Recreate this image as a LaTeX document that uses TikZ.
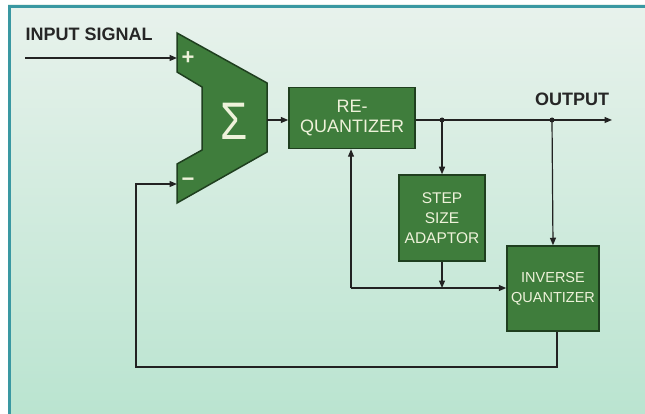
\documentclass[tikz,border=0pt]{standalone}
\usepackage{fontspec}
\setmainfont{Liberation Sans}
\usetikzlibrary{arrows.meta}
\definecolor{bgtop}{HTML}{E8F2EC}
\definecolor{bgbot}{HTML}{BAE4D0}
\definecolor{framecol}{HTML}{3A98A2}
\definecolor{blockfill}{HTML}{3F7D3C}
\definecolor{blockedge}{HTML}{1F3F1F}
\definecolor{blocktext}{HTML}{EEF2DA}
\definecolor{wirecol}{HTML}{222222}

\begin{document}
\begin{tikzpicture}[x=1pt,y=-1pt,
  block/.style={draw=blockedge,line width=1.5pt,fill=blockfill,text=blocktext,align=center,inner sep=0pt},
  wire/.style={draw=wirecol,line width=1.2pt},
  arr/.style={wire,-{Triangle[length=7.5pt,width=6pt]}},
  tap/.style={circle,fill=wirecol,inner sep=0pt,minimum size=5pt},
  sign/.style={text=blocktext,font=\bfseries\fontsize{22}{22}\selectfont},
  lbl/.style={font=\bfseries\fontsize{18}{20}\selectfont,text=black!85}]
\useasboundingbox (0,0) rectangle (645,414);
\fill[white] (0,0) rectangle (645,414);
\shade[top color=bgtop,bottom color=bgbot] (8,5) rectangle (645,414);
\draw[framecol,line width=3pt] (645,6.5) -- (9.5,6.5) -- (9.5,414);

% summing junction
\filldraw[draw=blockedge,line width=1.5pt,fill=blockfill] (177,33) -- (267,83) -- (267,152) -- (177,203) -- (177,164) -- (202,150) -- (202,87) -- (177,72) -- cycle;
\coordinate (sigmapos) at (234,121);
\node[text=blocktext,font=\fontsize{44}{44}\selectfont,yscale=1.2,transform shape] (sigma) at (sigmapos) {Σ};
\node[sign] (plus) at (188,58) {+};
\node[sign] (minus) at (188,182) {−};

\coordinate (plusin) at (177,58);
\coordinate (minusin) at (177,184);
\coordinate (sumout) at (267,120);
\coordinate (src) at (25,58);
\coordinate (dst) at (612,120);
\coordinate (tapstep) at (442,120);
\coordinate (tapinv) at (552,120);
\coordinate (fbk) at (351,288);
\coordinate (loop) at (136,367);

% blocks
\node[block,minimum width=126pt,minimum height=61pt,font=\fontsize{18}{20}\selectfont] (requant) at (352,118) {RE-\\QUANTIZER};
\node[block,minimum width=86pt,minimum height=86pt,font=\fontsize{15.5}{20}\selectfont] (stepsize) at (442,218) {STEP\\SIZE\\ADAPTOR};
\node[block,minimum width=92pt,minimum height=85pt,font=\fontsize{14.5}{20}\selectfont] (invquant) at (553,288.5) {INVERSE\\QUANTIZER};

\node[lbl,anchor=west] (inlbl) at (22,34) {INPUT SIGNAL};
\node[lbl] (outlbl) at (572,99) {OUTPUT};

% connections
\draw[arr] (src) -- (plusin);
\draw[arr] (sumout) -- (sumout -| requant.west);
\draw[arr] (sumout -| requant.east) -- (dst);
\draw[arr] (tapstep) -- (stepsize.north);
\draw[arr] (tapinv) -- (invquant.north);
\draw[arr] (stepsize.south) -- (stepsize.south |- fbk);
\draw[arr] (fbk) -- (fbk -| invquant.west);
\draw[arr] (fbk) -- (fbk |- requant.south);
\draw[arr] ([xshift=4pt]invquant.south) |- (loop) |- (minusin);
\node[tap] (dotstep) at (tapstep) {};
\node[tap] (dotinv) at (tapinv) {};
\end{tikzpicture}
\end{document}
